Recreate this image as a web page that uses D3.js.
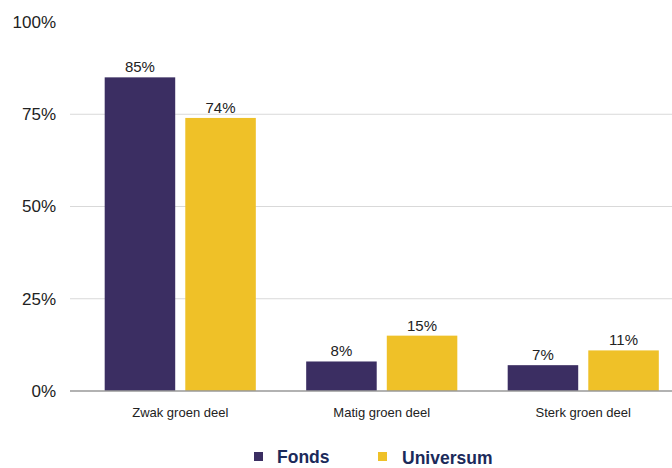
<!DOCTYPE html>
<html><head><meta charset="utf-8">
<script src="https://cdn.jsdelivr.net/npm/d3@7"></script>
<style>body{margin:0;background:#fff}svg{display:block}</style>
</head><body>
<svg id="c" width="672" height="468"></svg>
<script>
const categories = ["Zwak groen deel", "Matig groen deel", "Sterk groen deel"];
const seriesNames = ["Fonds", "Universum"];
const fonds = [85, 8, 7];
const universum = [74, 15, 11];
const ticks = [0, 25, 50, 75, 100];
const colors = ["#3b2e62", "#efc128"];

const svg = d3.select("#c");
const font = "'Liberation Sans', Arial, sans-serif";
const y = d3.scaleLinear().domain([0, 100]).range([391, 22]);
const x0 = d3.scaleBand().domain(categories).range([79.5, 684]).paddingInner(0.25).paddingOuter(0.125);
const x1 = d3.scaleBand().domain(seriesNames).range([0, x0.bandwidth()]).paddingInner(0.125);

svg.append("g").selectAll("line").data(ticks.filter(t => t > 0 && t < 100)).join("line")
  .attr("x1", 70).attr("x2", 672).attr("y1", d => y(d)).attr("y2", d => y(d))
  .attr("stroke", "#d9d9d9").attr("stroke-width", 1);

svg.append("g").selectAll("text").data(ticks).join("text")
  .attr("x", 56).attr("y", d => y(d)).attr("dy", "0.35em").attr("text-anchor", "end")
  .attr("font-family", font).attr("font-size", 17).attr("fill", "#222")
  .text(d => d + "%");

const data = categories.map((c, i) => ({ c, vals: [fonds[i], universum[i]] }));
const g = svg.append("g").selectAll("g").data(data).join("g")
  .attr("transform", d => `translate(${x0(d.c)},0)`);
g.selectAll("rect").data(d => d.vals.map((v, j) => ({ v, s: seriesNames[j], j }))).join("rect")
  .attr("x", d => x1(d.s)).attr("width", x1.bandwidth())
  .attr("y", d => y(d.v)).attr("height", d => y(0) - y(d.v))
  .attr("fill", d => colors[d.j]);
g.selectAll("text").data(d => d.vals.map((v, j) => ({ v, s: seriesNames[j], j }))).join("text")
  .attr("x", d => x1(d.s) + x1.bandwidth() / 2).attr("y", d => y(d.v) - 5)
  .attr("text-anchor", "middle").attr("font-family", font).attr("font-size", 15).attr("fill", "#222")
  .text(d => d.v + "%");

svg.append("line").attr("x1", 70).attr("x2", 672).attr("y1", y(0)).attr("y2", y(0))
  .attr("stroke", "#999").attr("stroke-width", 1.5);

svg.append("g").selectAll("text").data(categories).join("text")
  .attr("x", d => x0(d) + x0.bandwidth() / 2).attr("y", 417).attr("text-anchor", "middle")
  .attr("font-family", font).attr("font-size", 13).attr("fill", "#222").text(d => d);

const leg = [{ n: "Fonds", sx: 254, sy: 452, tx: 277, ty: 463 }, { n: "Universum", sx: 378, sy: 452, tx: 402, ty: 464 }];
leg.forEach((l, i) => {
  svg.append("rect").attr("x", l.sx).attr("y", l.sy).attr("width", 9).attr("height", 9).attr("fill", colors[i]);
  svg.append("text").attr("x", l.tx).attr("y", l.ty).attr("font-family", font).attr("font-weight", "bold")
    .attr("font-size", 17.5).attr("fill", "#1b2a5a").text(l.n);
});
</script>
</body></html>
